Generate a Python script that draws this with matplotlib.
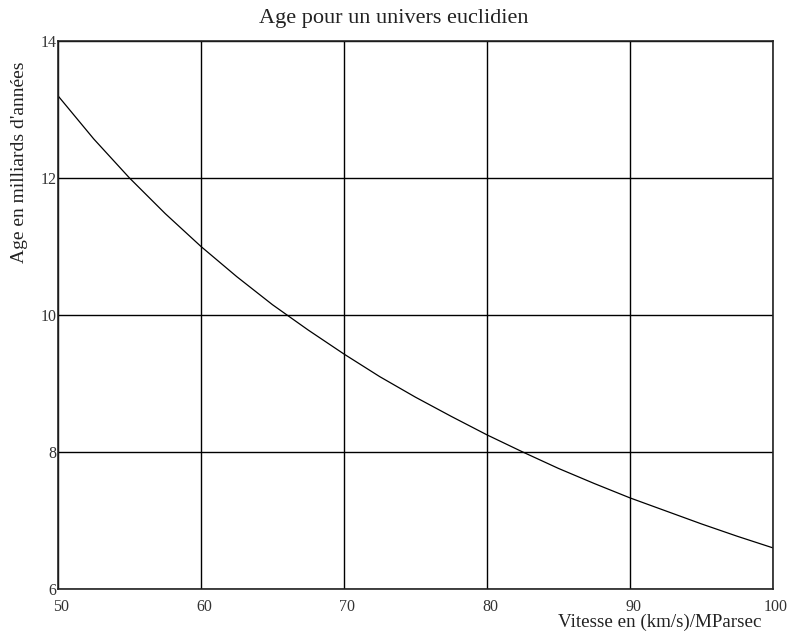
import matplotlib
matplotlib.use('Agg')
import matplotlib.pyplot as plt
from matplotlib.transforms import ScaledTranslation

# Vitesse d'expansion (km/s)/MParsec et age correspondant (milliards d'annees)
vitesse = [50, 52.5, 55, 57.5, 60, 62.5, 65, 67.5, 70, 72.5, 75,
           77.5, 80, 82.5, 85, 87.5, 90, 92.5, 95, 97.5, 100]
age = [13.2, 12.57, 12.0, 11.48, 11.0, 10.56, 10.15, 9.78, 9.43, 9.10, 8.8,
       8.52, 8.25, 8.0, 7.76, 7.54, 7.33, 7.14, 6.95, 6.77, 6.6]

x_ticks = [50, 60, 70, 80, 90, 100]
y_ticks = [6, 8, 10, 12, 14]

plt.rcParams['font.family'] = ['Liberation Serif', 'DejaVu Serif']

fig = plt.figure(figsize=(7.87, 6.35), dpi=100)
ax = fig.add_axes([58 / 787, 1 - 589 / 635, (773 - 58) / 787, (589 - 41) / 635])

ax.plot(vitesse, age, color='black', linewidth=0.9)

ax.set_xlim(50, 100)
ax.set_ylim(6, 14)
ax.set_xticks(x_ticks)
ax.set_yticks(y_ticks)
ax.grid(True, color='black', linewidth=1.0)
ax.tick_params(length=0, labelsize=11.5, labelcolor='#333333')
ax.tick_params(axis='x', pad=7)
ax.tick_params(axis='y', pad=1)
for s in ax.spines.values():
    s.set_linewidth(1.2)
    s.set_color('#222222')

# etiquettes de l'axe x legerement decalees vers la droite
dx = ScaledTranslation(3 / 100, 0, fig.dpi_scale_trans)
for lab in ax.get_xticklabels():
    lab.set_transform(lab.get_transform() + dx)

fig.text(0.5, 1 - 18 / 635, "Age pour un univers euclidien", ha='center', va='center',
         fontsize=16, color='#222222')
fig.text(762 / 787, 1 - 622 / 635, "Vitesse en (km/s)/MParsec", ha='right', va='center',
         fontsize=13.7, color='#222222')
fig.text(20 / 787, 1 - 162 / 635, "Age en milliards d'années", ha='center', va='center',
         rotation=90, fontsize=14, color='#222222')

fig.savefig('out.png', dpi=100)
